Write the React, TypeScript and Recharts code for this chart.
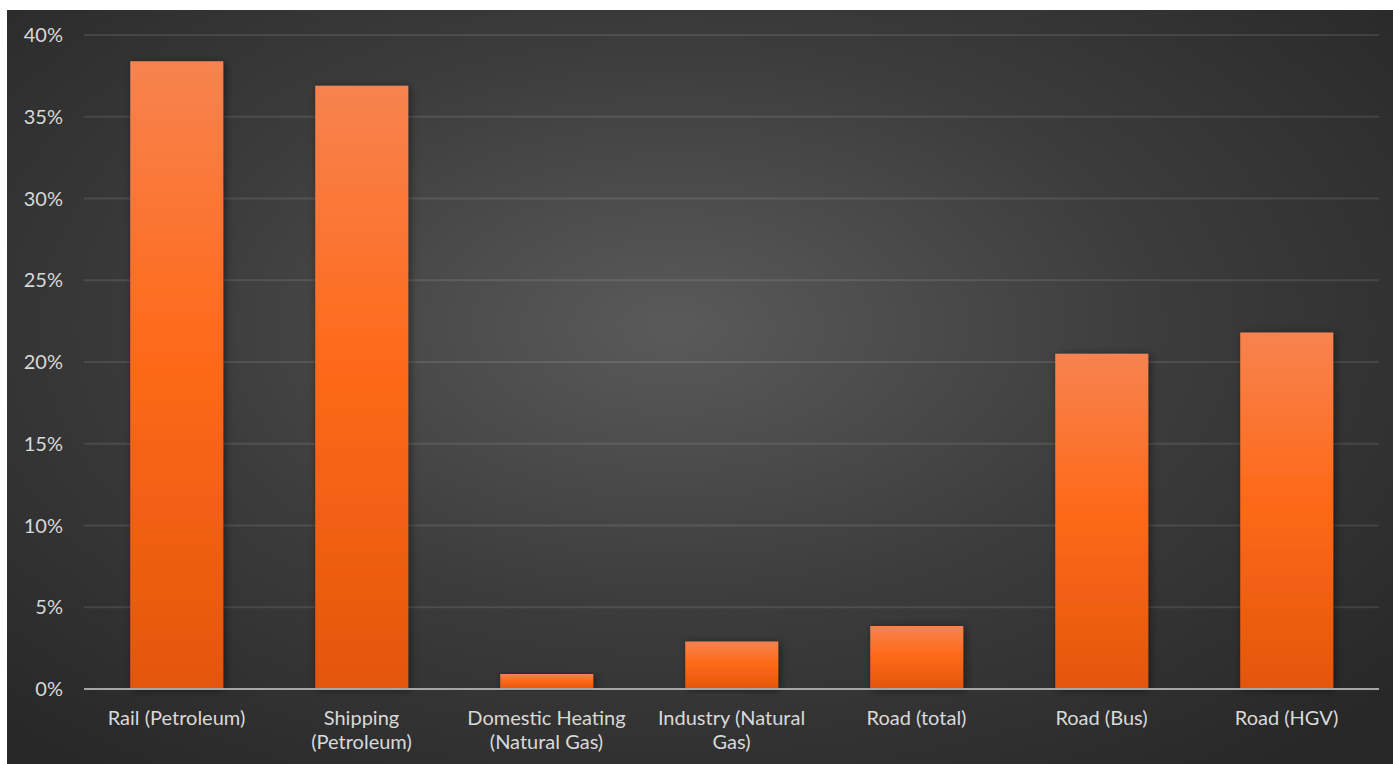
import React from "react"
import { BarChart, Bar, XAxis, YAxis, CartesianGrid } from "recharts"

const categories = [
  "Rail (Petroleum)",
  "Shipping (Petroleum)",
  "Domestic Heating (Natural Gas)",
  "Industry (Natural Gas)",
  "Road (total)",
  "Road (Bus)",
  "Road (HGV)",
]
const reduction = [38.4, 36.9, 0.92, 2.9, 3.85, 20.5, 21.8]
const yTicks = [0, 5, 10, 15, 20, 25, 30, 35, 40]

const data = categories.map((name, i) => ({ name, value: reduction[i] }))

const FONT = "Lato, 'Open Sans', sans-serif"

// greedy wrap by character count, like the category axis of the original
function wrapLabel(label: string, maxChars = 17) {
  const lines: string[] = []
  let cur = ""
  for (const w of label.split(" ")) {
    const next = cur ? cur + " " + w : w
    if (next.length > maxChars && cur) {
      lines.push(cur)
      cur = w
    } else {
      cur = next
    }
  }
  if (cur) lines.push(cur)
  return lines
}

function CategoryTick(props: any) {
  const { x, y, payload } = props
  const lines = wrapLabel(String(payload.value))
  return (
    <text x={x} y={y} textAnchor="middle" fill="#d9d9d9" fontSize={20} fontFamily={FONT}>
      {lines.map((line, i) => (
        <tspan key={i} x={x} dy={i === 0 ? 14 : 24}>
          {line}
        </tspan>
      ))}
    </text>
  )
}

export default function App() {
  return (
    <div style={{ position: "absolute", left: 0, top: 0, width: 1393, height: 764, background: "#fff", overflow: "hidden" }}>
      <div
        style={{
          position: "absolute",
          left: 7,
          top: 10,
          width: 1386,
          height: 754,
          background: "radial-gradient(ellipse 70% 75% at 48% 42%, #5a5a5a 0%, #3c3c3c 50%, #272727 100%)",
        }}
      >
        <BarChart
          width={1386}
          height={754}
          data={data}
          margin={{ top: 25, right: 14, left: 0, bottom: 0 }}
          barCategoryGap="25%"
        >
          <defs>
            <linearGradient id="barFill" x1="0" y1="0" x2="0" y2="1">
              <stop offset="0%" stopColor="#f7834f" />
              <stop offset="45%" stopColor="#fe6a1a" />
              <stop offset="100%" stopColor="#e4560a" />
            </linearGradient>
            <filter id="barShadow" x="-20%" y="-10%" width="140%" height="120%">
              <feDropShadow dx="2" dy="1" stdDeviation="4" floodColor="#000" floodOpacity="0.45" />
            </filter>
          </defs>
          <CartesianGrid vertical={false} stroke="#ffffff" strokeOpacity={0.1} strokeWidth={2} />
          <YAxis
            width={77}
            domain={[0, 40]}
            ticks={yTicks}
            tickFormatter={(v: number) => `${v}%`}
            axisLine={false}
            tickLine={false}
            tickSize={0}
            tickMargin={21}
            tick={{ fill: "#d9d9d9", fontSize: 20, fontFamily: FONT }}
          />
          <XAxis
            dataKey="name"
            height={75}
            interval={0}
            axisLine={{ stroke: "#a6a6a6", strokeWidth: 2 }}
            tickLine={false}
            tickSize={0}
            tickMargin={22}
            tick={<CategoryTick />}
          />
          <Bar dataKey="value" fill="url(#barFill)" filter="url(#barShadow)" isAnimationActive={false} />
        </BarChart>
      </div>
    </div>
  )
}
